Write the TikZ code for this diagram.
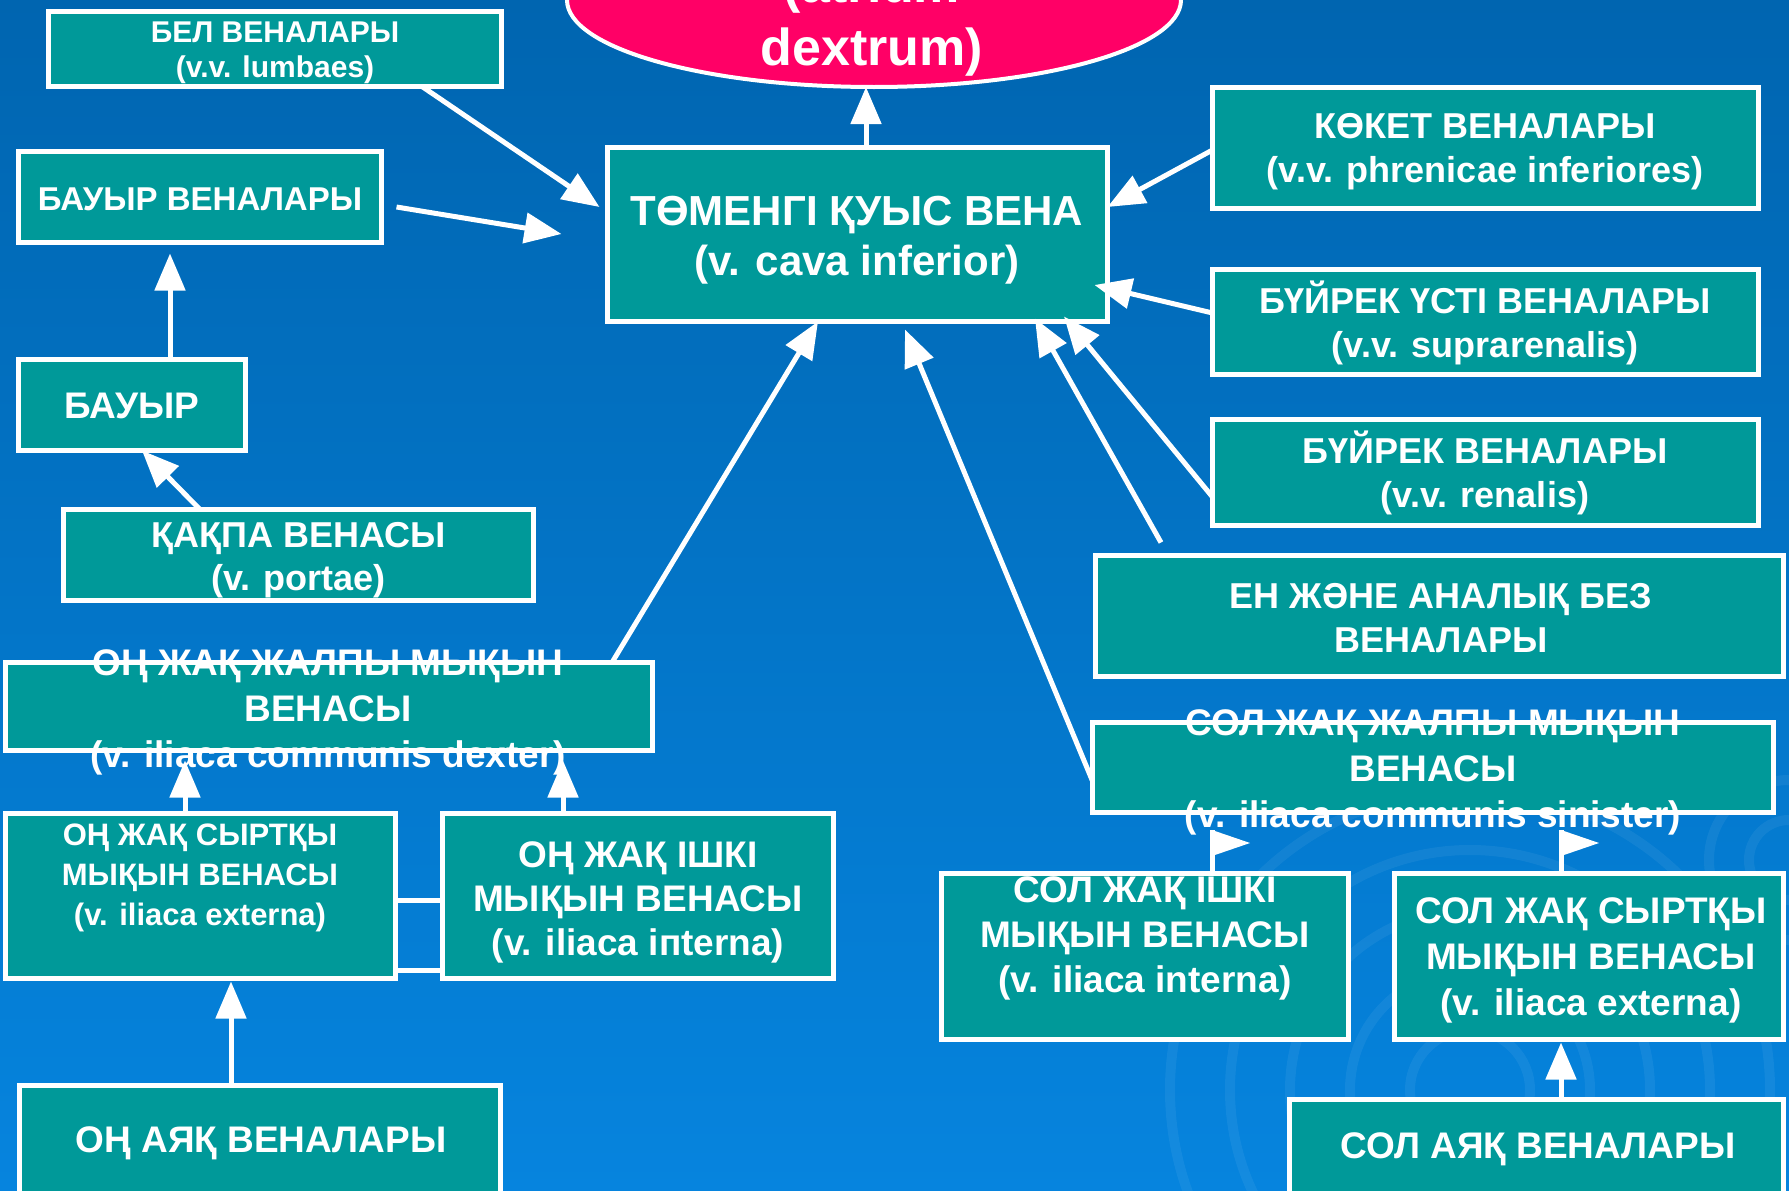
\documentclass[tikz,border=0pt]{standalone}
\usepackage{fontspec}
\setmainfont{Liberation Sans}
\usetikzlibrary{arrows.meta,calc,shapes.geometric}
\definecolor{tealbox}{RGB}{0,153,153}
\definecolor{pinkR}{RGB}{255,0,102}
\definecolor{bgtop}{RGB}{0,101,176}
\definecolor{bgmid}{RGB}{0,108,188}
\definecolor{bgbot}{RGB}{6,132,222}
\begin{document}
\begin{tikzpicture}[x=1pt,y=-1pt,
 box/.style={draw=white, line width=5pt, fill=tealbox, rectangle, inner sep=0pt, outer sep=0pt},
 lbl/.style={text=white, align=center, inner sep=0pt, anchor=base},
 arr/.style={draw=white, line width=5pt, -{Triangle[length=37pt,width=30pt]}},
 ln/.style={draw=white, line width=5pt},
 fA/.style={font=\fontsize{36}{44}\selectfont\bfseries},
 fB/.style={font=\fontsize{37}{46}\selectfont\bfseries},
]
\useasboundingbox (0,0) rectangle (1789,1191);
\clip (0,0) rectangle (1789,1191);
\shade[top color=bgtop, middle color=bgmid, bottom color=bgbot] (0,0) rectangle (1789,1191);
\begin{scope}[draw=white, opacity=0.06, line width=10pt]
 \foreach \r in {60,120,180,240,300} {\draw (1470,1090) circle[radius=\r pt];}
 \foreach \r in {40,80} {\draw (1789,860) circle[radius=\r pt];}
\end{scope}

% ellipse
\node[ellipse, draw=white, line width=4pt, fill=pinkR, minimum width=614pt, minimum height=174pt, inner sep=0pt, outer sep=0pt] (atr) at (874,0) {};
\node[lbl, font=\fontsize{52}{63}\selectfont\bfseries] (atrt) at (872,65) {(atrium\\dextrum)};

% boxes
\node[box, minimum width=453pt, minimum height=75pt] (bel) at (275,49) {};
\node[box, minimum width=363pt, minimum height=91pt] (bauyrv) at (200,197) {};
\node[box, minimum width=227pt, minimum height=91pt] (bauyr) at (132,405) {};
\node[box, minimum width=470pt, minimum height=91pt] (kakpa) at (298.5,555) {};
\node[box, minimum width=500pt, minimum height=174pt] (cava) at (857.5,234.5) {};
\node[box, minimum width=546pt, minimum height=121pt] (koket) at (1485.5,148) {};
\node[box, minimum width=546pt, minimum height=105pt] (buirust) at (1485.5,322) {};
\node[box, minimum width=546pt, minimum height=106pt] (buirek) at (1485.5,472.5) {};
\node[box, minimum width=688pt, minimum height=121pt] (en) at (1439.5,616) {};
\node[box, minimum width=681pt, minimum height=90pt] (solzh) at (1433,767.5) {};
\node[box, minimum width=647pt, minimum height=88pt] (onzh) at (329,706.5) {};
\node[box, minimum width=390pt, minimum height=165pt] (onsyr) at (200.5,896) {};
\node[box, minimum width=391pt, minimum height=165pt] (onishki) at (638,896) {};
\node[box, minimum width=481pt, minimum height=109pt] (onayak) at (260,1140) {};
\node[box, minimum width=407pt, minimum height=166pt] (solishki) at (1145,956.5) {};
\node[box, minimum width=389pt, minimum height=166pt] (solsyr) at (1589,956.5) {};
\node[box, minimum width=494pt, minimum height=95pt] (solayak) at (1536.5,1147) {};

% connectors
\draw[arr] (866,0 |- cava.north) -- (866,0 |- atr.south);
\draw[arr] (422,0 |- bel.south) -- ($(cava.west |- 0,207)+(-8,0)$);
\draw[arr] ($(bauyrv.east |- 0,207)+(15,0)$) -- ($(cava.west |- 0,234)+(-46,0)$);
\draw[arr] (koket.west |- 0,150) -- (cava.east |- 0,207);
\draw[arr] (buirust.west |- 0,313) -- ($(cava.east |- 0,285)+(-13,0)$);
\draw[arr] (buirek.west |- 0,497) -- ($(1064,0 |- cava.south)+(0,-5)$);
\draw[arr] ($(1161,0 |- en.north)+(0,-13)$) -- ($(1035,0 |- cava.south)+(0,-3)$);
\draw[arr] (solzh.west |- 0,781) -- ($(905,0 |- cava.south)+(0,8)$);
\draw[arr] (612,0 |- onzh.north) -- (818,0 |- cava.south);
\draw[arr] (170,0 |- bauyr.north) -- ($(170,0 |- bauyrv.south)+(0,11)$);
\draw[arr] (200,0 |- kakpa.north) -- (142,0 |- bauyr.south);
\draw[arr] (185,0 |- onsyr.north) -- ($(185,0 |- onzh.south)+(0,10)$);
\draw[arr] (563,0 |- onishki.north) -- ($(563,0 |- onzh.south)+(0,10)$);
\draw[arr] (231,0 |- onayak.north) -- ($(231,0 |- onsyr.south)+(0,3)$);
\draw[arr] (1561,0 |- solayak.north) -- ($(1561,0 |- solsyr.south)+(0,3)$);
\draw[ln] (onsyr.east |- 0,900) -- (onishki.west |- 0,900);
\draw[ln] (onsyr.east |- 0,970) -- (onishki.west |- 0,970);
\coordinate (flagA) at (1212,830);
\coordinate (flagB) at (1561,830);
\draw[ln] (1212,0 |- solishki.north) -- (flagA);
\draw[ln] (1561,0 |- solsyr.north) -- (flagB);
\fill[white] (flagA) -- ++(38,13) -- ++(-38,13) -- cycle;
\fill[white] (flagB) -- ++(38,13) -- ++(-38,13) -- cycle;

% texts (anchor base = baseline of the last line)
\node[lbl, font=\fontsize{30}{35}\selectfont\bfseries] (belt) at (275,77) {БЕЛ ВЕНАЛАРЫ\\(v.v. lumbaes)};
\node[lbl, font=\fontsize{33}{40}\selectfont\bfseries] (bauyrvt) at (200,210) {БАУЫР ВЕНАЛАРЫ};
\node[lbl, font=\fontsize{37}{44}\selectfont\bfseries] (bauyrt) at (132,418) {БАУЫР};
\node[lbl, font=\fontsize{36}{43}\selectfont\bfseries] (kakpat) at (298.5,590) {ҚАҚПА ВЕНАСЫ\\(v. portae)};
\node[lbl, font=\fontsize{42}{50}\selectfont\bfseries] (cavat) at (857,275) {ТӨМЕНГІ ҚУЫС ВЕНА\\(v. cava inferior)};
\node[lbl, fA] (kokett) at (1485,182) {КӨКЕТ ВЕНАЛАРЫ\\(v.v. phrenicae inferiores)};
\node[lbl, fA] (buirustt) at (1485,357) {БҮЙРЕК ҮСТІ ВЕНАЛАРЫ\\(v.v. suprarenalis)};
\node[lbl, fA] (buirekt) at (1485,507) {БҮЙРЕК ВЕНАЛАРЫ\\(v.v. renalis)};
\node[lbl, fA] (ent) at (1441,652) {ЕН ЖӘНЕ АНАЛЫҚ БЕЗ\\ВЕНАЛАРЫ};
\node[lbl, fB] (solzht) at (1433,827) {СОЛ ЖАҚ ЖАЛПЫ МЫҚЫН\\ВЕНАСЫ\\(v. iliaca communis sinister)};
\node[lbl, fB] (onzht) at (328,767) {ОҢ ЖАҚ ЖАЛПЫ МЫҚЫН\\ВЕНАСЫ\\(v. iliaca communis dexter)};
\node[lbl, font=\fontsize{31}{40}\selectfont\bfseries] (onsyrt) at (200,925) {ОҢ ЖАҚ СЫРТҚЫ\\МЫҚЫН ВЕНАСЫ\\(v. iliaca externa)};
\node[lbl, font=\fontsize{37}{44}\selectfont\bfseries] (onishkit) at (638,955) {ОҢ ЖАҚ ІШКІ\\МЫҚЫН ВЕНАСЫ\\(v. iliaca iпterna)};
\node[lbl, fB] (onayakt) at (261,1152) {ОҢ АЯҚ ВЕНАЛАРЫ};
\node[lbl, font=\fontsize{37}{45}\selectfont\bfseries] (solishkit) at (1145,992) {СОЛ ЖАҚ ІШКІ\\МЫҚЫН ВЕНАСЫ\\(v. iliaca interna)};
\node[lbl, fB] (solsyrt) at (1591,1015) {СОЛ ЖАҚ СЫРТҚЫ\\МЫҚЫН ВЕНАСЫ\\(v. iliaca externa)};
\node[lbl, fB] (solayakt) at (1538,1158) {СОЛ АЯҚ ВЕНАЛАРЫ};
\end{tikzpicture}
\end{document}
